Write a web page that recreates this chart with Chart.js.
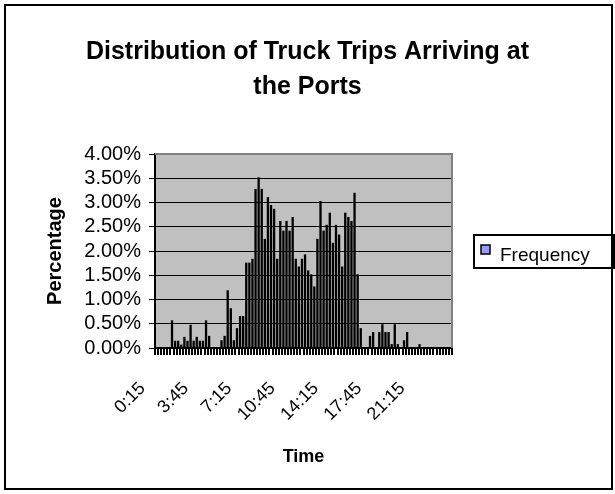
<!DOCTYPE html>
<html>
<head>
    <title>Distribution of Truck Trips Arriving at the Ports</title>
    <script src="https://cdn.jsdelivr.net/npm/chart.js"></script>
    <style>
        body { margin: 0; background: #fff; }
    </style>
</head>
<body>
    <canvas id="myChart" width="615" height="494"></canvas>
    <script>
        // 15-minute bins over the day
        const timeLabels = [
            '0:15','0:30','0:45','1:00','1:15','1:30','1:45','2:00','2:15','2:30','2:45','3:00',
            '3:15','3:30','3:45','4:00','4:15','4:30','4:45','5:00','5:15','5:30','5:45','6:00',
            '6:15','6:30','6:45','7:00','7:15','7:30','7:45','8:00','8:15','8:30','8:45','9:00',
            '9:15','9:30','9:45','10:00','10:15','10:30','10:45','11:00','11:15','11:30','11:45','12:00',
            '12:15','12:30','12:45','13:00','13:15','13:30','13:45','14:00','14:15','14:30','14:45','15:00',
            '15:15','15:30','15:45','16:00','16:15','16:30','16:45','17:00','17:15','17:30','17:45','18:00',
            '18:15','18:30','18:45','19:00','19:15','19:30','19:45','20:00','20:15','20:30','20:45','21:00',
            '21:15','21:30','21:45','22:00','22:15','22:30','22:45','23:00','23:15','23:30','23:45','24:00'
        ];

        // percentage of trips in each bin
        const frequency = [
            0, 0, 0, 0, 0, 0.57, 0.15, 0.15, 0.07, 0.23, 0.15, 0.48,
            0.15, 0.23, 0.15, 0.15, 0.57, 0.25, 0, 0, 0, 0.16, 0.25, 1.19,
            0.82, 0.16, 0.41, 0.66, 0.66, 1.76, 1.76, 1.84, 3.28, 3.52, 3.28, 2.25,
            3.11, 2.95, 2.87, 1.84, 2.62, 2.42, 2.62, 2.42, 2.70, 1.84, 1.68, 1.84,
            1.93, 1.60, 1.52, 1.27, 2.25, 3.03, 2.42, 2.54, 2.79, 2.17, 2.54, 2.34,
            1.68, 2.79, 2.70, 2.62, 3.20, 1.52, 0.41, 0, 0, 0.25, 0.33, 0,
            0.33, 0.49, 0.33, 0.33, 0.08, 0.49, 0.08, 0, 0.16, 0.33, 0, 0,
            0, 0.08, 0, 0, 0, 0, 0, 0, 0, 0, 0, 0
        ];

        // only these categories get a label on the x axis
        const shownTimes = ['0:15', '3:45', '7:15', '10:45', '14:15', '17:45', '21:15'];

        const yMax = 4;
        const yStep = 0.5;

        const FONT = "'Liberation Sans', Arial, sans-serif";
        const legendColor = '#9999FF';

        // grey plot area, outer frame and the boxed legend
        const framePlugin = {
            id: 'frame',
            beforeDraw(chart) {
                const { ctx, chartArea: a } = chart;
                ctx.save();
                ctx.fillStyle = '#ffffff';
                ctx.fillRect(0, 0, chart.width, chart.height);
                ctx.fillStyle = '#C0C0C0';
                ctx.fillRect(a.left, a.top, a.right - a.left, a.bottom - a.top);
                ctx.restore();
            },
            afterDraw(chart) {
                const { ctx, chartArea: a } = chart;
                ctx.save();
                // plot area border on top / right
                ctx.strokeStyle = '#808080';
                ctx.lineWidth = 2;
                ctx.beginPath();
                ctx.moveTo(a.left, a.top);
                ctx.lineTo(a.right, a.top);
                ctx.lineTo(a.right, a.bottom);
                ctx.stroke();

                // outer chart border
                ctx.strokeStyle = '#000';
                ctx.lineWidth = 2;
                ctx.strokeRect(5, 5, 607, 484);

                // legend box
                ctx.strokeRect(474, 235, 140, 33);
                ctx.fillStyle = legendColor;
                ctx.fillRect(481, 245, 9, 9);
                ctx.lineWidth = 1.5;
                ctx.strokeRect(481, 245, 9, 9);
                ctx.fillStyle = '#000';
                ctx.font = '19px ' + FONT;
                ctx.textBaseline = 'middle';
                ctx.fillText(chart.data.datasets[0].label, 500, 256);
                ctx.restore();
            }
        };

        const ctx = document.getElementById('myChart').getContext('2d');
        const chart = new Chart(ctx, {
            type: 'bar',
            data: {
                labels: timeLabels,
                datasets: [{
                    label: 'Frequency',
                    data: frequency,
                    backgroundColor: '#000000',
                    borderWidth: 0,
                    categoryPercentage: 1,
                    barPercentage: 0.75
                }]
            },
            plugins: [framePlugin],
            options: {
                responsive: false,
                animation: false,
                layout: { padding: { left: 10, right: 10, top: 10, bottom: 10 } },
                plugins: {
                    legend: { display: false },
                    tooltip: { enabled: false },
                    title: {
                        display: true,
                        text: ['Distribution of Truck Trips Arriving at', 'the Ports'],
                        color: '#000',
                        font: { family: FONT, size: 25, weight: 'bold', lineHeight: 1.4 },
                        padding: { top: 25, bottom: 49 }
                    }
                },
                scales: {
                    x: {
                        grid: {
                            display: true,
                            drawOnChartArea: false,
                            drawTicks: true,
                            tickLength: 7,
                            lineWidth: 2,
                            color: '#000',
                            offset: true
                        },
                        border: { display: true, color: '#000', width: 2 },
                        ticks: {
                            autoSkip: false,
                            minRotation: 45,
                            maxRotation: 45,
                            padding: 23,
                            labelOffset: -14,
                            color: '#000',
                            font: { family: FONT, size: 18 },
                            callback: function (value, index) {
                                const t = timeLabels[index];
                                return shownTimes.includes(t) ? t : '';
                            }
                        },
                        title: {
                            display: true,
                            text: 'Time',
                            color: '#000',
                            font: { family: FONT, size: 18, weight: 'bold' },
                            padding: { top: 0, bottom: 16 }
                        },
                        afterFit(scale) { scale.height = 136; }
                    },
                    y: {
                        min: 0,
                        max: yMax,
                        grid: {
                            color: '#000',
                            lineWidth: 1,
                            tickLength: 6
                        },
                        border: { display: true, color: '#000', width: 2 },
                        ticks: {
                            stepSize: yStep,
                            autoSkip: false,
                            padding: 8,
                            color: '#000',
                            font: { family: FONT, size: 20 },
                            callback: v => v.toFixed(2) + '%'
                        },
                        title: {
                            display: true,
                            text: 'Percentage',
                            color: '#000',
                            font: { family: FONT, size: 20, weight: 'bold' },
                            padding: { top: 33, bottom: 0 }
                        },
                        afterFit(scale) { scale.width = 145; }
                    },
                    // empty right-hand axis: keeps room for the legend box
                    yRight: {
                        position: 'right',
                        min: 0,
                        max: yMax,
                        grid: { display: false },
                        border: { display: false },
                        ticks: { display: false },
                        afterFit(scale) { scale.width = 153; }
                    }
                }
            }
        });
    </script>
</body>
</html>
